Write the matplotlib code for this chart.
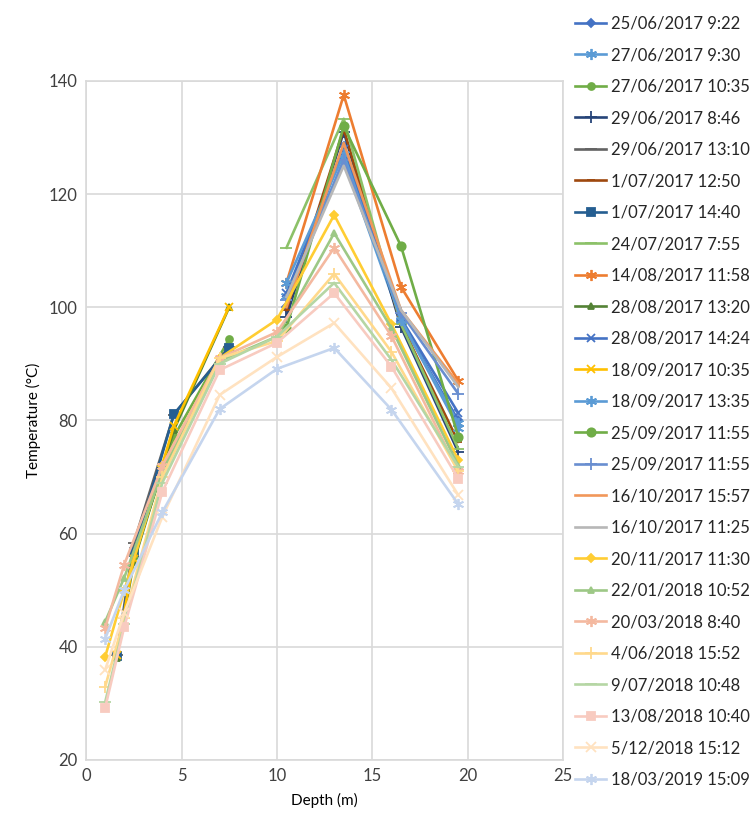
import numpy as np
import matplotlib
matplotlib.use("Agg")
import matplotlib.pyplot as plt

plt.rcParams['font.family'] = ['Lato', 'DejaVu Sans']

# Depth stations (m)
depth_shallow_2017 = [1.6, 2.5, 4.6, 7.5]
depth_deep_2017 = [10.5, 13.5, 16.5, 19.5]
depth_later = [1.0, 2.0, 4.0, 7.0, 10.0, 13.0, 16.0, 19.5]

labels = [
    "25/06/2017 9:22", "27/06/2017 9:30", "27/06/2017 10:35", "29/06/2017 8:46",
    "29/06/2017 13:10", "1/07/2017 12:50", "1/07/2017 14:40", "24/07/2017 7:55",
    "14/08/2017 11:58", "28/08/2017 13:20", "28/08/2017 14:24", "18/09/2017 10:35",
    "18/09/2017 13:35", "25/09/2017 11:55", "25/09/2017 11:55", "16/10/2017 15:57",
    "16/10/2017 11:25", "20/11/2017 11:30", "22/01/2018 10:52", "20/03/2018 8:40",
    "4/06/2018 15:52", "9/07/2018 10:48", "13/08/2018 10:40", "5/12/2018 15:12",
    "18/03/2019 15:09",
]

# Temperatures (°C) for each survey
temp_25_06_0922 = [100.0, 128.5, 97.5, 80.0]
temp_27_06_0930 = [102.0, 126.0, 97.5, 79.5]
temp_27_06_1035 = [38.5, 56.0, 77.1, 94.4]
temp_29_06_0846 = [98.3, 131.0, 96.5, 74.4]
temp_29_06_1310 = [38.5, 58.3, 81.0, 93.0]
temp_01_07_1250 = [99.5, 131.5, 97.0, 76.2]
temp_01_07_1440 = [38.4, 56.8, 81.1, 92.8]
temp_24_07_0755 = [110.5, 133.3, 97.0, 75.0]
temp_14_08_1158 = [104.3, 137.5, 103.6, 87.0]
temp_28_08_1320 = [38.0, 55.0, 78.3, 100.0]
temp_28_08_1424 = [102.5, 128.0, 98.0, 81.3]
temp_18_09_1035 = [38.5, 55.5, 79.0, 100.1]
temp_18_09_1335 = [104.3, 127.0, 97.8, 78.7]
temp_25_09_1155a = [96.3, 132.0, 110.8, 77.1]
temp_25_09_1155b = [101.3, 126.0, 99.0, 84.7]
temp_16_10_1557 = [100.0, 129.0, 99.5, 86.5]
temp_16_10_1125 = [101.8, 125.0, 99.5, 85.9]
temp_20_11_1130 = [38.2, 49.9, 72.0, 91.0, 97.8, 116.3, 97.0, 73.0]
temp_22_01_1052 = [44.4, 52.2, 71.0, 90.5, 94.8, 113.1, 96.3, 72.0]
temp_20_03_0840 = [43.3, 54.5, 72.0, 91.0, 95.6, 110.5, 94.9, 71.0]
temp_04_06_1552 = [32.9, 45.0, 70.0, 91.0, 94.0, 105.9, 92.1, 71.0]
temp_09_07_1048 = [30.2, 44.0, 69.0, 90.0, 94.8, 104.3, 90.7, 71.8]
temp_13_08_1040 = [29.2, 43.5, 67.4, 88.9, 93.7, 102.5, 89.5, 69.7]
temp_05_12_1512 = [35.9, 46.0, 63.0, 84.5, 91.2, 97.2, 85.7, 66.8]
temp_18_03_1509 = [41.4, 50.0, 63.8, 82.0, 89.1, 92.8, 81.9, 65.2]

ASTERISK = (6, 2, 0)
series = [
    (depth_deep_2017, temp_25_06_0922, '#4472C4', 'D', 4),
    (depth_deep_2017, temp_27_06_0930, '#5B9BD5', ASTERISK, 8),
    (depth_shallow_2017, temp_27_06_1035, '#70AD47', 'o', 5),
    (depth_deep_2017, temp_29_06_0846, '#264478', '+', 8),
    (depth_shallow_2017, temp_29_06_1310, '#636363', '_', 8),
    (depth_deep_2017, temp_01_07_1250, '#9E480E', '_', 6),
    (depth_shallow_2017, temp_01_07_1440, '#255E91', 's', 6),
    (depth_deep_2017, temp_24_07_0755, '#8CC168', '_', 8),
    (depth_deep_2017, temp_14_08_1158, '#ED7D31', ASTERISK, 8),
    (depth_shallow_2017, temp_28_08_1320, '#548235', '^', 5),
    (depth_deep_2017, temp_28_08_1424, '#4472C4', 'x', 6),
    (depth_shallow_2017, temp_18_09_1035, '#FFC000', 'x', 6),
    (depth_deep_2017, temp_18_09_1335, '#5B9BD5', ASTERISK, 8),
    (depth_deep_2017, temp_25_09_1155a, '#70AD47', 'o', 6),
    (depth_deep_2017, temp_25_09_1155b, '#698ED0', '+', 8),
    (depth_deep_2017, temp_16_10_1557, '#F1975A', None, 0),
    (depth_deep_2017, temp_16_10_1125, '#B7B7B7', None, 0),
    (depth_later, temp_20_11_1130, '#FFCD33', 'D', 4),
    (depth_later, temp_22_01_1052, '#9DC886', '^', 5),
    (depth_later, temp_20_03_0840, '#F4B9A0', ASTERISK, 8),
    (depth_later, temp_04_06_1552, '#FFD98C', '+', 8),
    (depth_later, temp_09_07_1048, '#B5D6A4', '_', 8),
    (depth_later, temp_13_08_1040, '#F8CBC0', 's', 6),
    (depth_later, temp_05_12_1512, '#FFE2C0', 'x', 7),
    (depth_later, temp_18_03_1509, '#C5D5EE', ASTERISK, 8),
]

fig = plt.figure(figsize=(7.55, 8.25), dpi=100)
ax = fig.add_axes([0.114, 0.079, 0.632, 0.823])

handles = []
for (d, t, c, m, ms), lab in zip(series, labels):
    h, = ax.plot(d, t, color=c, lw=1.9, marker=m, markersize=ms,
                 markeredgewidth=1.3, label=lab)
    handles.append(h)

ax.set_xlim(0, 25)
ax.set_ylim(20, 140)
ax.set_xticks(np.arange(0, 26, 5))
ax.set_yticks(np.arange(20, 141, 20))
ax.grid(True, color='#D9D9D9', lw=1.2)
ax.set_axisbelow(True)
for s in ax.spines.values():
    s.set_color('#D9D9D9')
    s.set_linewidth(1.2)
ax.tick_params(length=0, labelsize=12, colors='#404040', pad=6)
ax.set_xlabel('Depth (m)', fontsize=11, color='#000000', labelpad=6)
ax.set_ylabel('Temperature (°C)', fontsize=11, color='#000000', labelpad=6)

leg = fig.legend(handles=handles, loc='upper left', bbox_to_anchor=(0.748, 0.993),
                 frameon=False, fontsize=12, labelspacing=0.93,
                 handlelength=1.9, handletextpad=0.3, borderaxespad=0.2)
for txt in leg.get_texts():
    txt.set_color('#262626')

fig.savefig('out.png', dpi=100)
